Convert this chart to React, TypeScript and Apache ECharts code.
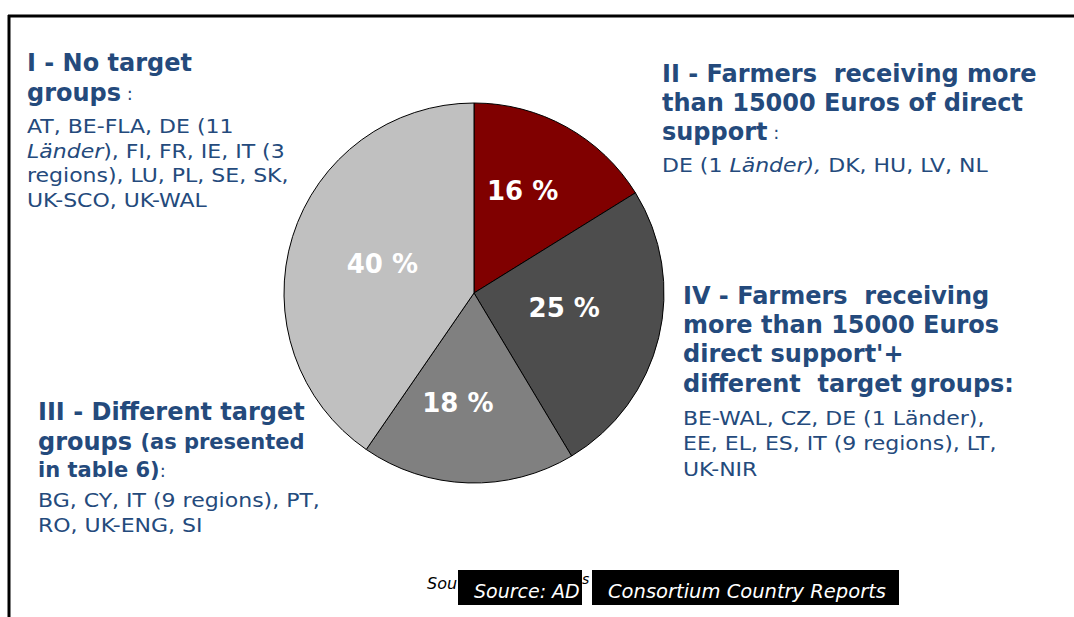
import React, { useEffect, useRef } from "react";
import * as echarts from "echarts";

const categories = [
  "II - Farmers receiving more than 15000 Euros of direct support",
  "IV - Farmers receiving more than 15000 Euros direct support + different target groups",
  "III - Different target groups",
  "I - No target groups",
];
const values = [16, 25, 18, 40];
const labels = ["16 %", "25 %", "18 %", "40 %"];
const colors = ["#800000", "#4d4d4d", "#808080", "#c0c0c0"];

const BLUE = "#244a7c";
const FONT = "DejaVu Sans";

type Line = { x: number; y: number; text: string; body?: boolean };

const H = 24; // heading size
const B = 20; // body size

const lines: Line[] = [
  // I
  { x: 27, y: 63, text: "{h|I - No target}" },
  { x: 27, y: 93, text: "{h|groups}{c| :}" },
  { x: 27, y: 126, text: "{b|AT, BE-FLA, DE (11}", body: true },
  { x: 27, y: 151, text: "{i|Länder}{b|), FI, FR, IE, IT (3}", body: true },
  { x: 27, y: 175, text: "{b|regions), LU, PL, SE, SK,}", body: true },
  { x: 27, y: 200, text: "{b|UK-SCO, UK-WAL}", body: true },
  // II
  { x: 662, y: 74, text: "{h|II - Farmers  receiving more}" },
  { x: 662, y: 103, text: "{h|than 15000 Euros of direct}" },
  { x: 662, y: 132, text: "{h|support}{c| :}" },
  { x: 662, y: 165, text: "{b|DE (1 }{i|Länder),}{b| DK, HU, LV, NL}", body: true },
  // IV
  { x: 683, y: 296, text: "{h|IV - Farmers  receiving}" },
  { x: 683, y: 325, text: "{h|more than 15000 Euros}" },
  { x: 683, y: 354, text: "{h|direct support'+}" },
  { x: 683, y: 384, text: "{h|different  target groups:}" },
  { x: 683, y: 418, text: "{b|BE-WAL, CZ, DE (1 Länder),}", body: true },
  { x: 683, y: 443, text: "{b|EE, EL, ES, IT (9 regions), LT,}", body: true },
  { x: 683, y: 469, text: "{b|UK-NIR}", body: true },
  // III
  { x: 38, y: 412, text: "{h|III - Different target}" },
  { x: 38, y: 442, text: "{h|groups }{s|(as presented}" },
  { x: 38, y: 470, text: "{s|in table 6)}{c|:}" },
  { x: 38, y: 500, text: "{b|BG, CY, IT (9 regions), PT,}", body: true },
  { x: 38, y: 525, text: "{b|RO, UK-ENG, SI}", body: true },
];

const labelShift = [
  [1, -16],
  [-5, -8],
  [-13, 12],
  [2, 0],
];

const rich = {
  h: { fontFamily: FONT, fontSize: H, fontWeight: "bold", fill: BLUE, color: BLUE },
  s: { fontFamily: FONT, fontSize: 21, fontWeight: "bold", fill: BLUE, color: BLUE },
  c: { fontFamily: FONT, fontSize: 18, fontWeight: "normal", fill: BLUE, color: BLUE },
  b: { fontFamily: FONT, fontSize: B, fontWeight: "normal", fill: BLUE, color: BLUE },
  i: { fontFamily: FONT, fontSize: B, fontStyle: "italic", fontWeight: "normal", fill: BLUE, color: BLUE },
};

export default function App() {
  const ref = useRef<HTMLDivElement>(null);
  useEffect(() => {
    document.body.style.margin = "0";
    const chart = echarts.init(ref.current!, null, { renderer: "svg" });
    const textEls = lines.map((l) => ({
      type: "text",
      x: l.x,
      y: l.y,
      z: 10,
      scaleX: l.body ? 1.1 : 1,
      style: {
        text: l.text,
        rich,
        verticalAlign: "middle",
        align: "left",
        fontFamily: FONT,
        fill: BLUE,
      },
    }));
    chart.setOption({
      animation: false,
      backgroundColor: "#ffffff",
      series: [
        {
          type: "pie",
          center: [474, 293],
          radius: 190,
          startAngle: 90,
          clockwise: true,
          silent: true,
          data: categories.map((c, i) => ({
            name: c,
            value: values[i],
            itemStyle: { color: colors[i] },
            label: { formatter: labels[i] },
          })),
          itemStyle: { borderColor: "#000000", borderWidth: 1 },
          label: {
            show: true,
            position: "inside",
            color: "#ffffff",
            fontFamily: FONT,
            fontWeight: "bold",
            fontSize: 26,
          },
          labelLayout: (p: any) => ({
            dx: labelShift[p.dataIndex][0],
            dy: labelShift[p.dataIndex][1],
          }),
          labelLine: { show: false },
          emphasis: { disabled: true },
        },
      ],
      graphic: {
        elements: [
          {
            type: "line",
            z: 20,
            shape: { x1: 8, y1: 16, x2: 1074, y2: 16 },
            style: { stroke: "#000000", lineWidth: 3 },
          },
          {
            type: "line",
            z: 20,
            shape: { x1: 9, y1: 15, x2: 9, y2: 617 },
            style: { stroke: "#000000", lineWidth: 3 },
          },
          ...textEls,
          {
            type: "text",
            x: 427,
            y: 583,
            z: 10,
            style: {
              text: "Sou",
              fontFamily: FONT,
              fontStyle: "italic",
              fontSize: 16,
              fill: "#000000",
              verticalAlign: "middle",
            },
          },
          {
            type: "text",
            x: 582,
            y: 579,
            z: 10,
            style: {
              text: "s",
              fontFamily: FONT,
              fontStyle: "italic",
              fontSize: 14,
              fill: "#000000",
              verticalAlign: "middle",
            },
          },
          {
            type: "rect",
            z: 12,
            shape: { x: 458, y: 570, width: 124, height: 35 },
            style: { fill: "#000000" },
          },
          {
            type: "rect",
            z: 12,
            shape: { x: 592, y: 570, width: 307, height: 35 },
            style: { fill: "#000000" },
          },
          {
            type: "text",
            x: 474,
            y: 591,
            z: 14,
            style: {
              text: "Source: AD",
              fontFamily: FONT,
              fontStyle: "italic",
              fontSize: 19,
              fill: "#ffffff",
              verticalAlign: "middle",
            },
          },
          {
            type: "text",
            x: 608,
            y: 591,
            z: 14,
            style: {
              text: "Consortium Country Reports",
              fontFamily: FONT,
              fontStyle: "italic",
              fontSize: 19.5,
              fill: "#ffffff",
              verticalAlign: "middle",
            },
          },
        ],
      },
    });
    return () => chart.dispose();
  }, []);
  return (
    <div
      ref={ref}
      style={{ position: "absolute", left: 0, top: 0, width: 1074, height: 617 }}
    />
  );
}
